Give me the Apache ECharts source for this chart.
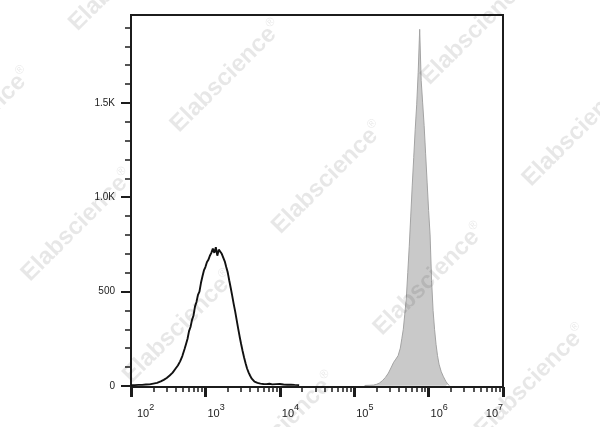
<!DOCTYPE html>
<html>
<head>
<meta charset="utf-8">
<script src="https://cdn.jsdelivr.net/npm/echarts@6/dist/echarts.min.js"></script>
<style>
html,body{margin:0;padding:0;background:#fff;}
#chart{width:600px;height:427px;}
</style>
</head>
<body>
<div id="chart"></div>
<script>
// ---- data (x values are log10 of fluorescence intensity) ----
const xTickExponents = [2, 3, 4, 5, 6, 7];
const yTickValues = [0, 500, 1000, 1500];
const yTickLabels = ['0', '500', '1.0K', '1.5K'];
const yMinorValues = [100, 200, 300, 400, 600, 700, 800, 900, 1100, 1200, 1300, 1400, 1600, 1700, 1800, 1900];

const blackLogX = [2.00, 2.05, 2.10, 2.15, 2.20, 2.25, 2.30, 2.35, 2.40, 2.44, 2.48, 2.52, 2.56, 2.60, 2.63, 2.66,
  2.69, 2.72, 2.74, 2.76, 2.78, 2.80, 2.82, 2.84, 2.86, 2.88, 2.90, 2.92, 2.94, 2.96, 2.98, 3.00, 3.02, 3.04,
  3.06, 3.08, 3.10, 3.12, 3.14, 3.16, 3.18, 3.20, 3.22, 3.24, 3.26, 3.28, 3.30, 3.32, 3.34, 3.36, 3.38, 3.40,
  3.42, 3.44, 3.46, 3.48, 3.50, 3.52, 3.54, 3.56, 3.58, 3.60, 3.62, 3.64, 3.66, 3.70, 3.74, 3.78, 3.82, 3.86,
  3.90, 3.95, 4.00, 4.05, 4.10, 4.15, 4.20, 4.26];
const blackCount = [3, 4, 5, 5, 7, 8, 12, 16, 24, 32, 42, 55, 70, 92, 108, 130,
  158, 195, 222, 250, 290, 312, 350, 372, 420, 445, 482, 500, 545, 580, 612, 630, 655, 668,
  690, 705, 728, 705, 735, 690, 722, 712, 700, 690, 660, 630, 602, 560, 520, 478, 435, 395,
  350, 305, 262, 222, 185, 150, 120, 92, 72, 55, 40, 30, 22, 16, 12, 10, 9, 11,
  8, 9, 10, 7, 6, 6, 5, 4];

const grayLogX = [5.14, 5.20, 5.26, 5.30, 5.34, 5.38, 5.42, 5.46, 5.50, 5.53, 5.56, 5.59, 5.62, 5.64, 5.66, 5.68,
  5.70, 5.72, 5.74, 5.76, 5.78, 5.80, 5.82, 5.84, 5.86, 5.88, 5.90, 5.92, 5.94, 5.96, 5.98, 6.00, 6.02, 6.04,
  6.06, 6.08, 6.10, 6.12, 6.14, 6.17, 6.20, 6.23, 6.26, 6.28];
const grayCount = [2, 3, 4, 8, 15, 28, 45, 68, 100, 125, 142, 160, 200, 250, 300, 380,
  460, 600, 740, 900, 1060, 1210, 1360, 1490, 1660, 1890, 1620, 1500, 1380, 1230, 1080, 930, 800, 560,
  400, 300, 220, 160, 115, 75, 48, 25, 8, 2];

// ---- derived tick positions (log decades with 2..9 minor ticks) ----
const xMinorValues = [];
for (let i = 0; i < xTickExponents.length - 1; i++) {
  for (let k = 2; k <= 9; k++) xMinorValues.push(xTickExponents[i] + Math.log10(k));
}

const ink = '#1c1c1c';
const font = 'Liberation Sans, Arial, sans-serif';

// watermark lattice (in rotated coordinates s = x+y, d = x-y)
const wmS = [100, 303, 506, 709, 912, 1115];
const wmD = [-446, -148, 150, 448, 746];
const wmElements = [];
wmS.forEach(s => wmD.forEach(d => {
  const x = (s + d) / 2, y = (s - d) / 2;
  if (x > -120 && x < 720 && y > -120 && y < 450) {
    wmElements.push({
      type: 'text', x: x, y: y, rotation: Math.PI / 4, z: 100, silent: true,
      style: {
        text: '{m|Elabscience}{r|®}',
        align: 'center', verticalAlign: 'middle',
        rich: {
          m: {fontSize: 24, fontWeight: 'bold', fontFamily: font, fill: 'rgba(0,0,0,0.095)', lineHeight: 26},
          r: {fontSize: 12, fontFamily: font, fill: 'rgba(0,0,0,0.095)', lineHeight: 12, padding: [0, 0, 14, 0]}
        }
      }
    });
  }
}));

const chart = echarts.init(document.getElementById('chart'), null, {renderer: 'canvas'});
chart.setOption({
  animation: false,
  backgroundColor: '#ffffff',
  grid: {left: 131, right: 97, top: 15, bottom: 40, show: true, borderColor: ink, borderWidth: 2, backgroundColor: 'transparent'},
  xAxis: [
    {
      type: 'value', min: 2, max: 7, position: 'bottom',
      axisLine: {show: true, onZero: false, lineStyle: {color: ink, width: 2}},
      axisTick: {show: true, customValues: xTickExponents, length: 10, lineStyle: {color: ink, width: 3}},
      axisLabel: {
        show: true, customValues: xTickExponents, margin: 16, align: 'left', alignMaxLabel: 'right',
        formatter: v => (Math.round(v) === xTickExponents[0] ? '{b0|10}' : '{b|10}') + '{s|' + Math.round(v) + '}',
        rich: {
          b0: {fontSize: 11, fontFamily: font, color: '#222', lineHeight: 22, padding: [0, 0, 0, 6]},
          b: {fontSize: 11, fontFamily: font, color: '#222', lineHeight: 22, padding: [0, 0, 0, 2]},
          s: {fontSize: 9, fontFamily: font, color: '#222', lineHeight: 10, padding: [0, 0, 12, 0]}
        }
      },
      splitLine: {show: false}
    },
    {
      type: 'value', min: 2, max: 7, position: 'bottom',
      axisLine: {show: false, onZero: false},
      axisTick: {show: true, customValues: xMinorValues, length: 5, lineStyle: {color: ink, width: 1.5}},
      axisLabel: {show: false},
      splitLine: {show: false}
    }
  ],
  yAxis: [
    {
      type: 'value', min: -6, max: 1966, position: 'left',
      axisLine: {show: true, onZero: false, lineStyle: {color: ink, width: 2}},
      axisTick: {show: true, customValues: yTickValues, length: 10, lineStyle: {color: ink, width: 2}},
      axisLabel: {
        show: true, customValues: yTickValues, margin: 16, fontSize: 10, fontFamily: font, color: '#222',
        formatter: v => yTickLabels[yTickValues.indexOf(v)]
      },
      splitLine: {show: false}
    },
    {
      type: 'value', min: -6, max: 1966, position: 'left',
      axisLine: {show: false, onZero: false},
      axisTick: {show: true, customValues: yMinorValues, length: 6, lineStyle: {color: ink, width: 1.5}},
      axisLabel: {show: false},
      splitLine: {show: false}
    }
  ],
  series: [
    {
      type: 'line', xAxisIndex: 0, yAxisIndex: 0, showSymbol: false, smooth: false,
      data: grayLogX.map((x, i) => [x, grayCount[i]]),
      lineStyle: {color: '#a3a3a3', width: 1},
      areaStyle: {color: '#c9c9c9', opacity: 1},
      z: 2
    },
    {
      type: 'line', xAxisIndex: 0, yAxisIndex: 0, showSymbol: false, smooth: false,
      data: blackLogX.map((x, i) => [x, blackCount[i]]),
      lineStyle: {color: '#111', width: 1.9},
      z: 3
    }
  ],
  graphic: {elements: wmElements}
});
</script>
</body>
</html>
